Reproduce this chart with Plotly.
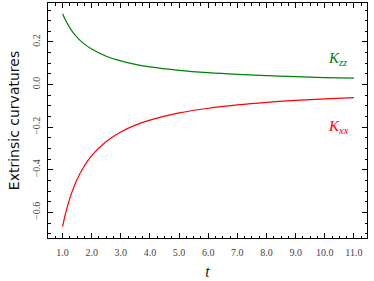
import plotly.graph_objects as go

t_vals = [1.0, 1.1, 1.2, 1.3, 1.5, 1.75, 2.0, 2.5, 3.0, 3.5, 4.0, 5.0, 6.0, 7.0, 8.0, 9.0, 10.0, 11.0]
k_zz = [0.333, 0.303, 0.278, 0.256, 0.222, 0.190, 0.167, 0.133, 0.111, 0.095, 0.083,
        0.067, 0.056, 0.048, 0.042, 0.037, 0.033, 0.030]
k_xx = [-0.667, -0.606, -0.556, -0.513, -0.444, -0.381, -0.333, -0.267, -0.222, -0.190,
        -0.167, -0.133, -0.111, -0.095, -0.083, -0.074, -0.067, -0.061]
x_ticks = [1.0, 2.0, 3.0, 4.0, 5.0, 6.0, 7.0, 8.0, 9.0, 10.0, 11.0]
y_ticks = [-0.6, -0.4, -0.2, 0.0, 0.2]

serif = "Liberation Serif"

fig = go.Figure()
fig.add_trace(go.Scatter(x=t_vals, y=k_zz, mode="lines", line=dict(color="#008000", width=1.2, shape="spline"),
                         showlegend=False))
fig.add_trace(go.Scatter(x=t_vals, y=k_xx, mode="lines", line=dict(color="#ff0000", width=1.2, shape="spline"),
                         showlegend=False))

fig.add_annotation(x=10.05, y=0.118, xref="x", yref="y", text="<i>K</i><sub><i>zz</i></sub>",
                   showarrow=False, xanchor="left", yanchor="middle",
                   font=dict(family=serif, size=15, color="#008000"))
fig.add_annotation(x=10.05, y=-0.197, xref="x", yref="y", text="<i>K</i><sub><i>xx</i></sub>",
                   showarrow=False, xanchor="left", yanchor="middle",
                   font=dict(family=serif, size=15, color="#ff0000"))

axis_common = dict(showline=True, linecolor="black", linewidth=1, mirror="ticks",
                   ticks="inside", ticklen=5, tickwidth=1, tickcolor="black",
                   showgrid=False, zeroline=False, automargin=False,
                   ticklabeloverflow="allow",
                   tickfont=dict(family=serif, size=10, color="#444444"))

fig.update_xaxes(range=[0.5, 11.45], tickvals=x_ticks, tickformat=".1f", ticklabelstandoff=5,
                 minor=dict(dtick=0.25, tick0=0, ticks="inside", ticklen=2.5, tickcolor="black", showgrid=False),
                 title=dict(text="<i>t</i>", font=dict(family=serif, size=16, color="#222222"), standoff=8),
                 **axis_common)
fig.update_yaxes(range=[-0.72, 0.383], tickvals=y_ticks, tickformat=".1f", tickangle=-90, ticklabelstandoff=3,
                 minor=dict(dtick=0.05, tick0=0, ticks="inside", ticklen=2.5, tickcolor="black", showgrid=False),
                 title=dict(text="Extrinsic curvatures", font=dict(family="DejaVu Sans", size=14, color="#111111"),
                            standoff=8),
                 **axis_common)

fig.update_layout(width=374, height=281, margin=dict(l=48, r=7, t=3, b=43),
                  plot_bgcolor="white", paper_bgcolor="white")

fig.write_html("out.html", config={"displayModeBar": False},
               post_script="document.body.style.margin='0';")
